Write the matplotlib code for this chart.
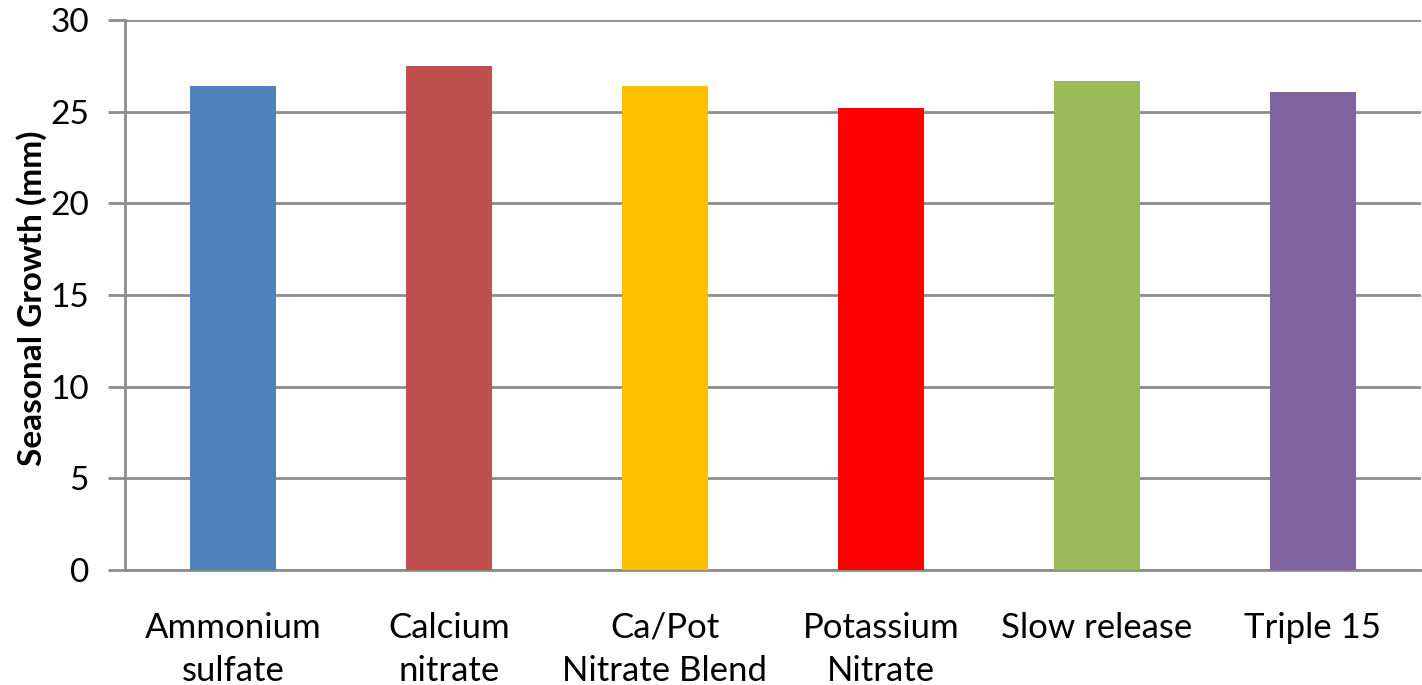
import matplotlib
matplotlib.use("Agg")
import matplotlib.pyplot as plt

categories = ["Ammonium\nsulfate", "Calcium\nnitrate", "Ca/Pot\nNitrate Blend",
              "Potassium\nNitrate", "Slow release", "Triple 15"]
values = [26.4, 27.5, 26.4, 25.2, 26.7, 26.1]
colors = ["#4F81BD", "#C0504D", "#FFC000", "#FF0000", "#9BBB59", "#8064A2"]
yticks = [0, 5, 10, 15, 20, 25, 30]

plt.rcParams['font.family'] = ['Lato', 'DejaVu Sans']

fig = plt.figure(figsize=(14.22, 6.85), dpi=100)
ax = fig.add_axes([125/1422, 1 - 570/685, 1296/1422, 550/685])

x = list(range(len(categories)))
ax.bar(x, values, width=0.4, color=colors, zorder=3)
ax.set_xlim(-0.5, len(categories) - 0.5)
ax.set_ylim(0, 30)
ax.set_yticks(yticks)
ax.set_xticks(x)
ax.set_xticklabels(categories, fontsize=25, linespacing=1.45)
ax.tick_params(axis='y', labelsize=24, length=12, width=2, color='#8C8C8C', pad=14)
ax.tick_params(axis='x', length=0, pad=30)
ax.yaxis.grid(True, color='#8C8C8C', linewidth=2, zorder=0)
for s in ['top', 'right']:
    ax.spines[s].set_visible(False)
ax.spines['left'].set_color('#8C8C8C')
ax.spines['left'].set_linewidth(2)
ax.spines['bottom'].set_color('#8C8C8C')
ax.spines['bottom'].set_linewidth(2)
fig.text(32/1422, 1 - 298/685, "Seasonal Growth (mm)", rotation=90,
         fontsize=24, fontweight='bold', ha='center', va='center')

fig.savefig("out.png", dpi=100)
